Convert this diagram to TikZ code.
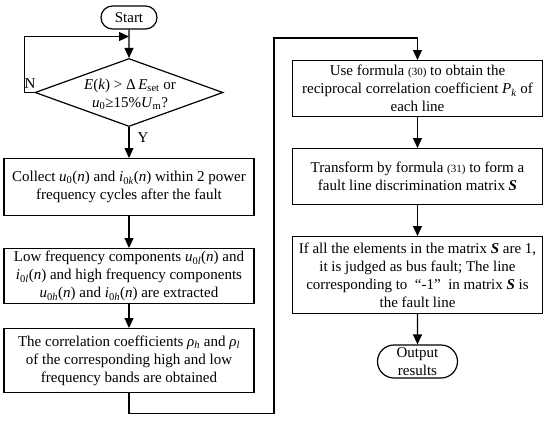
\documentclass[tikz,border=0pt]{standalone}
\usepackage{fontspec}
\setmainfont{Liberation Serif}
\usetikzlibrary{arrows.meta,positioning,shapes.geometric,shapes.misc}
\newcommand{\vsub}[2]{\textit{#1}\textsubscript{#2}}
\newcommand{\refno}[1]{{\fontsize{11}{13}\selectfont(#1)}}
\tikzset{
  body/.style={font=\fontsize{15}{18}\selectfont,text=black,align=center},
  stepbox/.style={body,draw=black,line width=1.2pt,minimum width=250pt,inner sep=0pt,anchor=north},
  term/.style={body,draw=black,line width=1.2pt,rounded rectangle,inner sep=0pt},
  decision/.style={diamond,draw=black,line width=1.2pt,minimum width=188pt,minimum height=68pt,inner sep=0pt},
  lbl/.style={font=\fontsize{15}{18}\selectfont,text=black},
  arr/.style={-{Triangle[length=10pt,width=9pt]},draw=black,line width=1.2pt}
}
\begin{document}
\begin{tikzpicture}[x=1pt,y=-1pt]
\path[use as bounding box] (0,0) rectangle (550,421);
% left column
\node[term,minimum width=56pt,minimum height=23pt] (start) at (129,17.5) {Start};
\coordinate (join) at (129,36.5);
\node[decision] (dec) at (129,92.5) {};
\node[body] (dectext) at (130,94) {\textit{E}(\textit{k}) > Δ\,\vsub{E}{set} or\\\vsub{u}{0}≥15\%\vsub{U}{m}?};
\node[stepbox,minimum height=57pt] (collect) at (129,158) {Collect \vsub{u}{0}(\textit{n}) and \vsub{i}{0\textit{k}}(\textit{n}) within 2 power\\frequency cycles after the fault};
\node[stepbox,minimum height=55pt] (extract) at (129,248) {Low frequency components \vsub{u}{0\textit{l}}(\textit{n}) and\\\vsub{i}{0\textit{l}}(\textit{n}) and high frequency components\\\vsub{u}{0\textit{h}}(\textit{n}) and \vsub{i}{0\textit{h}}(\textit{n}) are extracted};
\node[stepbox,minimum height=64pt] (corr) at (129,328) {The correlation coefficients \vsub{ρ}{\textit{h}} and \vsub{ρ}{\textit{l}}\\of the corresponding high and low\\frequency bands are obtained};
\node[lbl] (nlab) at (30,84) {N};
\node[lbl] (ylab) at (143,138) {Y};
% right column
\node[stepbox,minimum height=56pt] (recip) at (417.5,60) {Use formula \refno{30} to obtain the\\reciprocal correlation coefficient \vsub{P}{\textit{k}} of\\each line};
\node[stepbox,minimum height=56pt] (disc) at (417.5,148) {Transform by formula \refno{31} to form a\\fault line discrimination matrix \textbf{\textit{S}}};
\node[stepbox,minimum height=77pt] (judge) at (417.5,236) {If all the elements in the matrix \textbf{\textit{S}} are 1,\\it is judged as bus fault; The line\\corresponding to \ “-1” \ in matrix \textbf{\textit{S}} is\\the fault line};
\node[term,minimum width=80pt,minimum height=33pt] (output) at (417.5,361.5) {Output\\results};
% connectors
\draw[arr] (start)--(dec); \draw[arr] (dec)--(collect); \draw[arr] (collect)--(extract); \draw[arr] (extract)--(corr);
\draw[arr] (dec.west)--++(-10,0)|-(join);
\draw[arr] (corr.south)--++(0,20)-|(274,38)-|(recip.north);
\draw[arr] (recip)--(disc); \draw[arr] (disc)--(judge); \draw[arr] (judge)--(output);
\end{tikzpicture}
\end{document}
